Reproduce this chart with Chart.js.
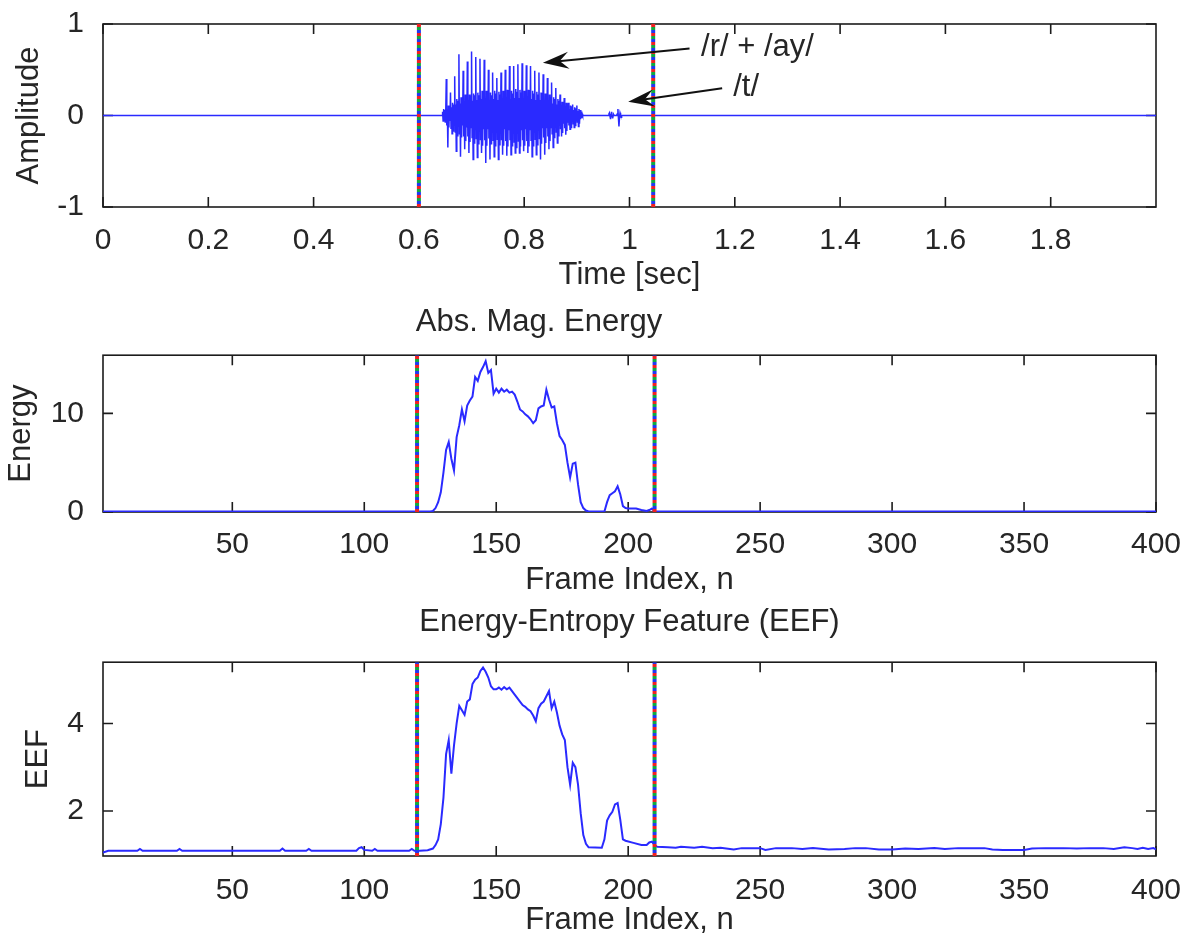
<!DOCTYPE html>
<html>
<head>
<meta charset="utf-8">
<script src="https://cdn.jsdelivr.net/npm/chart.js@4.4.1/dist/chart.umd.min.js"></script>
<style>
  html, body { margin: 0; padding: 0; background: #ffffff; }
  #figure { position: relative; width: 1195px; height: 936px; overflow: hidden; background: #ffffff; }
  #figure canvas { position: absolute; left: 0; }
</style>
</head>
<body>
<div id="figure">
  <canvas id="waveChart" width="1195" height="296" style="top:0px"></canvas>
  <canvas id="energyChart" width="1195" height="304" style="top:296px"></canvas>
  <canvas id="eefChart" width="1195" height="336" style="top:600px"></canvas>
</div>
<script>
// ---- Speech waveform: "right" (/r/ + /ay/ + /t/) ----
const timeTicks = [0, 0.2, 0.4, 0.6, 0.8, 1, 1.2, 1.4, 1.6, 1.8];
const timeRange = [0, 2];
const ampTicks = [-1, 0, 1];
const ampRange = [-1, 1];
const boundaryTimes = [0.6, 1.045];

const sampleStep = 0.001;            // seconds between listed samples
const voicedStart = 0.644;           // voiced part /r/ + /ay/, one row per pitch period
const voicedAmp = [
  0, 0.04, -0.06, 0.07, -0.05, 0.06, -0.07, 0.05,
  0.40, -0.11, 0.07, -0.35, 0.11, -0.13, 0.10, -0.06,
  0.25, -0.14, 0.09, -0.20, 0.14, -0.17, 0.12, -0.08,
  0.43, -0.18, 0.12, -0.39, 0.18, -0.22, 0.16, -0.10,
  0.67, -0.20, 0.13, -0.45, 0.20, -0.24, 0.18, -0.11,
  0.49, -0.23, 0.15, -0.37, 0.23, -0.28, 0.20, -0.13,
  0.59, -0.23, 0.16, -0.41, 0.23, -0.29, 0.21, -0.13,
  0.70, -0.24, 0.16, -0.48, 0.24, -0.30, 0.22, -0.14,
  0.64, -0.25, 0.17, -0.46, 0.25, -0.31, 0.22, -0.14,
  0.62, -0.27, 0.18, -0.41, 0.27, -0.33, 0.24, -0.15,
  0.61, -0.27, 0.18, -0.52, 0.27, -0.33, 0.24, -0.15,
  0.50, -0.25, 0.17, -0.48, 0.25, -0.31, 0.22, -0.14,
  0.47, -0.27, 0.18, -0.45, 0.27, -0.33, 0.24, -0.15,
  0.41, -0.26, 0.17, -0.48, 0.26, -0.32, 0.23, -0.15,
  0.47, -0.27, 0.18, -0.43, 0.27, -0.33, 0.24, -0.15,
  0.50, -0.28, 0.19, -0.44, 0.28, -0.34, 0.25, -0.16,
  0.54, -0.27, 0.18, -0.43, 0.27, -0.33, 0.24, -0.15,
  0.54, -0.29, 0.19, -0.41, 0.29, -0.35, 0.26, -0.16,
  0.56, -0.28, 0.19, -0.41, 0.28, -0.34, 0.25, -0.16,
  0.57, -0.27, 0.18, -0.39, 0.27, -0.33, 0.24, -0.15,
  0.55, -0.28, 0.19, -0.41, 0.28, -0.34, 0.25, -0.16,
  0.54, -0.27, 0.18, -0.45, 0.27, -0.33, 0.24, -0.15,
  0.49, -0.26, 0.17, -0.43, 0.26, -0.32, 0.23, -0.15,
  0.47, -0.25, 0.17, -0.48, 0.25, -0.31, 0.22, -0.14,
  0.45, -0.24, 0.16, -0.43, 0.24, -0.30, 0.22, -0.14,
  0.41, -0.23, 0.15, -0.37, 0.23, -0.28, 0.20, -0.13,
  0.36, -0.20, 0.13, -0.35, 0.20, -0.24, 0.18, -0.11,
  0.30, -0.18, 0.12, -0.30, 0.18, -0.22, 0.16, -0.10,
  0.23, -0.15, 0.10, -0.23, 0.15, -0.19, 0.14, -0.09,
  0.19, -0.14, 0.09, -0.21, 0.14, -0.17, 0.12, -0.08,
  0.14, -0.11, 0.07, -0.15, 0.11, -0.13, 0.10, -0.06,
  0.12, -0.09, 0.06, -0.13, 0.09, -0.11, 0.08, -0.05,
  0.11, -0.07, 0.05, -0.12, 0.07, -0.09, 0.06, -0.04,
  0.04, -0.03, 0.02, 0
];
const burstStart = 0.960;            // release burst of /t/
const burstAmp = [0, 0.02, 0.03, -0.01, -0.04, 0.01, 0.04, 0, -0.03, 0, 0.01, 0, 0, 0, 0, 0,
  0.01, 0.02, 0.07, -0.03, -0.12, -0.02, 0.03, 0.01, -0.02, 0];

// ---- Frame-based features ----
const frameTicks = [50, 100, 150, 200, 250, 300, 350, 400];
const frameRange = [1, 400];
const boundaryFrames = [120, 210];

const energyTicks = [0, 10];
const energyRange = [0, 15.9];
const energyFrames = [1, 125, 126, 127, 128, 129, 130, 131, 132, 133, 134, 135, 136, 137, 138, 139, 140,
  141, 142, 143, 144, 145, 146, 147, 148, 149, 150, 151, 152, 153, 154, 155, 156, 157, 158, 159, 160,
  161, 162, 163, 164, 165, 166, 167, 168, 169, 170, 171, 172, 173, 174, 175, 176, 177, 178, 179, 180,
  181, 182, 183, 184, 185, 191, 192, 193, 194, 195, 196, 197, 198, 199, 200, 203, 205, 207, 208, 209,
  210, 400];
const energyValues = [0.05, 0.05, 0.1, 0.4, 1.0, 2.0, 4.0, 6.3, 7.1, 5.4, 4.2, 7.6, 8.8, 10.4, 9.2, 10.8, 11.3,
  11.7, 13.7, 13.3, 14.2, 14.7, 15.3, 14.1, 14.4, 12.0, 12.5, 12.1, 12.5, 12.2, 12.4, 12.1, 12.2, 11.9, 11.2, 10.4, 10.2,
  9.9, 9.7, 9.4, 9.0, 9.3, 10.5, 10.7, 10.8, 12.4, 11.4, 10.6, 10.7, 9.0, 7.7, 7.3, 6.8, 5.0, 3.5, 4.9, 5.0,
  2.8, 1.0, 0.4, 0.15, 0.05, 0.05, 1.0, 1.7, 1.9, 2.1, 2.6, 1.8, 0.6, 0.4, 0.35, 0.35, 0.2, 0.1, 0.2, 0.35,
  0.05, 0.05];

const eefTicks = [2, 4];
const eefRange = [0.97, 5.4];
const eefFrames = [1, 3, 14, 15, 16, 29, 30, 31, 68, 69, 70, 78, 79, 80, 97, 98, 99, 100, 103, 104, 105,
  117, 118, 119, 121, 124, 126, 127, 128, 129, 130, 131, 132, 133, 134, 135, 136, 137, 138, 139, 140,
  141, 142, 143, 144, 145, 146, 147, 148, 149, 150, 151, 152, 153, 154, 155, 156, 157, 158, 159, 160,
  161, 162, 163, 164, 165, 166, 167, 168, 169, 170, 171, 172, 173, 174, 175, 176, 177, 178, 179, 180,
  181, 182, 183, 184, 185, 190, 191, 192, 193, 194, 195, 196, 197, 198, 199, 202, 205, 207, 208, 209,
  210, 211, 215, 218, 220, 225, 228, 232, 235, 240, 243, 250, 252, 256, 262, 266, 270, 276, 282, 286,
  290, 295, 300, 305, 310, 316, 320, 325, 335, 338, 342, 350, 353, 358, 365, 370, 375, 380, 384, 388,
  391, 393, 395, 397, 399, 400];
const eefValues = [1.05, 1.09, 1.09, 1.13, 1.09, 1.09, 1.13, 1.09, 1.09, 1.14, 1.09, 1.09, 1.13, 1.09, 1.09, 1.15, 1.17, 1.11, 1.09, 1.13, 1.09,
  1.09, 1.13, 1.09, 1.09, 1.10, 1.14, 1.22, 1.35, 1.7, 2.3, 3.3, 3.62, 2.85, 3.5, 4.0, 4.4, 4.3, 4.2, 4.5, 4.55,
  4.9, 5.0, 5.05, 5.2, 5.28, 5.18, 5.05, 4.85, 4.78, 4.78, 4.82, 4.77, 4.83, 4.78, 4.82, 4.74, 4.66, 4.58, 4.5, 4.42,
  4.38, 4.32, 4.28, 4.18, 4.05, 4.35, 4.45, 4.5, 4.62, 4.74, 4.35, 4.5, 4.25, 3.95, 3.75, 3.62, 3.0, 2.6, 3.1, 3.0,
  2.6, 1.95, 1.45, 1.25, 1.17, 1.16, 1.35, 1.78, 1.9, 1.98, 2.15, 2.18, 1.8, 1.35, 1.32, 1.27, 1.22, 1.22, 1.28, 1.3,
  1.22, 1.18, 1.17, 1.16, 1.18, 1.16, 1.18, 1.15, 1.16, 1.12, 1.15, 1.15, 1.11, 1.15, 1.15, 1.13, 1.15, 1.12, 1.13, 1.15,
  1.15, 1.12, 1.12, 1.14, 1.13, 1.15, 1.13, 1.15, 1.15, 1.12, 1.11, 1.11, 1.14, 1.15, 1.15, 1.14, 1.15, 1.15, 1.13, 1.17,
  1.15, 1.13, 1.16, 1.13, 1.15, 1.12];

// ---- Phoneme annotations (data coordinates of the waveform axes) ----
const notes = [
  { label: '/r/ + /ay/', textAt: [1.136, 0.749], tail: [1.114, 0.732], tip: [0.8355, 0.577] },
  { label: '/t/', textAt: [1.197, 0.308], tail: [1.176, 0.297], tip: [0.9975, 0.151] }
];

// ---- Styling ----
const FONT = "'Liberation Sans', Arial, Helvetica, sans-serif";
const TEXT = '#262626';
const SIGNAL = '#2a2aff';
const AXIS = '#1c1c1c';
const DOT_COLORS = ['#f02020', '#10a840', '#2038f0'];

Chart.defaults.font.family = FONT;
Chart.defaults.color = TEXT;

// Matlab-like axes box with inward ticks on all four sides
const axesBox = {
  id: 'axesBox',
  beforeDatasetsDraw(chart) {
    const { ctx, chartArea: a, scales: { x, y } } = chart;
    const len = 10;
    ctx.save();
    ctx.strokeStyle = AXIS;
    ctx.lineWidth = 1.6;
    ctx.strokeRect(a.left, a.top, a.right - a.left, a.bottom - a.top);
    ctx.beginPath();
    x.ticks.forEach(t => {
      const px = x.getPixelForValue(t.value);
      ctx.moveTo(px, a.bottom); ctx.lineTo(px, a.bottom - len);
      ctx.moveTo(px, a.top); ctx.lineTo(px, a.top + len);
    });
    y.ticks.forEach(t => {
      const py = y.getPixelForValue(t.value);
      ctx.moveTo(a.left, py); ctx.lineTo(a.left + len, py);
      ctx.moveTo(a.right, py); ctx.lineTo(a.right - len, py);
    });
    ctx.stroke();
    ctx.restore();
  }
};

// Arrows and phoneme labels on the waveform
const phonemeNotes = {
  id: 'phonemeNotes',
  afterDatasetsDraw(chart) {
    const { ctx, scales: { x, y } } = chart;
    ctx.save();
    notes.forEach(n => {
      const tx = x.getPixelForValue(n.tail[0]), ty = y.getPixelForValue(n.tail[1]);
      const hx = x.getPixelForValue(n.tip[0]), hy = y.getPixelForValue(n.tip[1]);
      const dx = hx - tx, dy = hy - ty, d = Math.hypot(dx, dy);
      const ux = dx / d, uy = dy / d, nx = -uy, ny = ux;
      const headLen = 26, halfW = 8.5;
      ctx.strokeStyle = '#111111';
      ctx.fillStyle = '#111111';
      ctx.lineWidth = 2;
      ctx.beginPath();
      ctx.moveTo(tx, ty);
      ctx.lineTo(hx - ux * headLen * 0.6, hy - uy * headLen * 0.6);
      ctx.stroke();
      const bx = hx - ux * headLen, by = hy - uy * headLen;
      ctx.beginPath();
      ctx.moveTo(hx, hy);
      ctx.lineTo(bx + nx * halfW, by + ny * halfW);
      ctx.lineTo(hx - ux * headLen * 0.65, hy - uy * headLen * 0.65);
      ctx.lineTo(bx - nx * halfW, by - ny * halfW);
      ctx.closePath();
      ctx.fill();
      ctx.fillStyle = TEXT;
      ctx.font = '31px ' + FONT;
      ctx.textAlign = 'left';
      ctx.textBaseline = 'middle';
      ctx.fillText(n.label, x.getPixelForValue(n.textAt[0]), y.getPixelForValue(n.textAt[1]));
    });
    ctx.restore();
  }
};

// Dotted multi-colour segment boundary lines
function boundaryDatasets(positions, yLimits) {
  const sets = [];
  positions.forEach(p => {
    DOT_COLORS.forEach((c, k) => {
      sets.push({
        data: [{ x: p, y: yLimits[0] }, { x: p, y: yLimits[1] }],
        borderColor: c,
        borderWidth: 4,
        borderDash: [3, 6],
        borderDashOffset: k * 3,
        pointRadius: 0,
        order: 0
      });
    });
  });
  return sets;
}

function signalDataset(points, width) {
  return {
    data: points,
    borderColor: SIGNAL,
    borderWidth: width,
    pointRadius: 0,
    tension: 0,
    order: 1
  };
}

function makePanel(id, cfg) {
  return new Chart(document.getElementById(id), {
    type: 'line',
    data: { datasets: cfg.datasets },
    options: {
      responsive: false,
      animation: false,
      events: [],
      layout: { padding: { top: cfg.padTop, right: 39, left: 0, bottom: 0 } },
      plugins: {
        legend: { display: false },
        tooltip: { enabled: false },
        title: cfg.title ? {
          display: true,
          text: cfg.title,
          fullSize: false,
          color: TEXT,
          font: { size: 31, weight: 'normal', lineHeight: 1.2 },
          padding: cfg.titlePad
        } : { display: false }
      },
      scales: {
        x: {
          type: 'linear',
          min: cfg.xRange[0],
          max: cfg.xRange[1],
          grid: { display: false },
          border: { display: false },
          ticks: {
            autoSkip: false, maxRotation: 0, color: TEXT,
            font: { size: 30, lineHeight: 1.2 },
            padding: cfg.xTickPad,
            callback: v => String(v)
          },
          title: {
            display: true, text: cfg.xTitle, color: TEXT,
            font: { size: 31, lineHeight: 1 },
            padding: { top: 0, bottom: cfg.xTitlePad }
          },
          afterBuildTicks: s => { s.ticks = cfg.xTicks.map(v => ({ value: v })); },
          afterFit: s => { s.height = cfg.xHeight; s.paddingLeft = 0; s.paddingRight = 0; }
        },
        y: {
          type: 'linear',
          min: cfg.yRange[0],
          max: cfg.yRange[1],
          grid: { display: false },
          border: { display: false },
          ticks: {
            autoSkip: false, color: TEXT,
            font: { size: 30, lineHeight: 1.2 },
            padding: 11,
            callback: v => String(v)
          },
          title: {
            display: true, text: cfg.yTitle, color: TEXT,
            font: { size: 31, lineHeight: 1 },
            padding: { top: cfg.yTitlePad, bottom: 0 }
          },
          afterBuildTicks: s => { s.ticks = cfg.yTicks.map(v => ({ value: v })); },
          afterFit: s => { s.width = 103; s.paddingTop = 0; s.paddingBottom = 0; }
        }
      }
    },
    plugins: cfg.plugins
  });
}

// Waveform points: silence, voiced part, silence, burst, silence
const wavePoints = [{ x: timeRange[0], y: 0 }]
  .concat(voicedAmp.map((v, i) => ({ x: voicedStart + i * sampleStep, y: v })))
  .concat(burstAmp.map((v, i) => ({ x: burstStart + i * sampleStep, y: v })))
  .concat([{ x: timeRange[1], y: 0 }]);

const energyPoints = energyFrames.map((f, i) => ({ x: f, y: energyValues[i] }));
const eefPoints = eefFrames.map((f, i) => ({ x: f, y: eefValues[i] }));

makePanel('waveChart', {
  datasets: boundaryDatasets(boundaryTimes, ampRange).concat([signalDataset(wavePoints, 1.5)]),
  padTop: 24,
  xRange: timeRange, xTicks: timeTicks, xTitle: 'Time [sec]', xHeight: 89, xTickPad: 8, xTitlePad: 5,
  yRange: ampRange, yTicks: ampTicks, yTitle: 'Amplitude', yTitlePad: 14,
  plugins: [axesBox, phonemeNotes]
});

makePanel('energyChart', {
  datasets: boundaryDatasets(boundaryFrames, energyRange).concat([signalDataset(energyPoints, 2)]),
  padTop: 0,
  title: 'Abs. Mag. Energy' + '\u00a0'.repeat(21),
  titlePad: { top: 8, bottom: 14 },
  xRange: frameRange, xTicks: frameTicks, xTitle: 'Frame Index, n', xHeight: 88, xTickPad: 7, xTitlePad: 4,
  yRange: energyRange, yTicks: energyTicks, yTitle: 'Energy', yTitlePad: 6,
  plugins: [axesBox]
});

makePanel('eefChart', {
  datasets: boundaryDatasets(boundaryFrames, eefRange).concat([signalDataset(eefPoints, 2)]),
  padTop: 0,
  title: 'Energy-Entropy Feature (EEF)',
  titlePad: { top: 4, bottom: 21 },
  xRange: frameRange, xTicks: frameTicks, xTitle: 'Frame Index, n', xHeight: 80, xTickPad: 9, xTitlePad: 0,
  yRange: eefRange, yTicks: eefTicks, yTitle: 'EEF', yTitlePad: 23,
  plugins: [axesBox]
});
</script>
</body>
</html>
